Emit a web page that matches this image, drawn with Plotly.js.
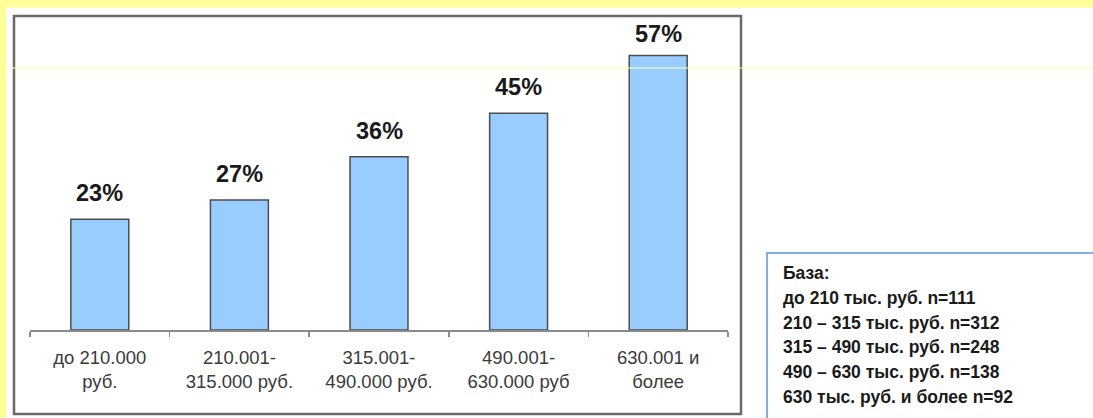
<!DOCTYPE html>
<html>
<head>
<meta charset="utf-8">
<script src="https://cdn.plot.ly/plotly-3.0.1.min.js"></script>
<style>
  html, body { margin: 0; padding: 0; background: #ffffff; }
  #chart { width: 1093px; height: 418px; }
</style>
</head>
<body>
<div id="chart"></div>
<script>
// ---- data ----
const categories = [
  "до 210.000<br>руб.",
  "210.001-<br>315.000 руб.",
  "315.001-<br>490.000 руб.",
  "490.001-<br>630.000 руб",
  "630.001 и<br>более"
];
const values = [23, 27, 36, 45, 57];
const valueLabels = ["23%", "27%", "36%", "45%", "57%"];
const baseTitle = "База:";
const baseLines = [
  "до 210 тыс. руб. n=111",
  "210 – 315 тыс. руб. n=312",
  "315 – 490 тыс. руб. n=248",
  "490 – 630 тыс. руб. n=138",
  "630 тыс. руб. и более n=92"
];

// ---- layout geometry helpers (pixel -> paper) ----
const W = 1093, H = 418;
const mL = 30, mR = 365, mT = 16, mB = 88;
const pw = W - mL - mR, ph = H - mT - mB;
const px = x => (x - mL) / pw;
const py = y => (H - mB - y) / ph;

const FONT = "Liberation Sans, Arial, sans-serif";

const trace = {
  type: "bar",
  x: categories,
  y: values,
  marker: { color: "#99CCFF", line: { color: "#4d4d4d", width: 1.5 } },
  hoverinfo: "skip"
};

const labelAnnotations = categories.map((c, i) => ({
  x: c, y: values[i], xref: "x", yref: "y",
  text: valueLabels[i], showarrow: false,
  yanchor: "bottom", yshift: i === 4 ? 6 : 11,
  font: { family: FONT, size: 23.5, color: "#1a1a1a", weight: "bold" }
}));

const baseRows = [baseTitle].concat(baseLines);
const baseAnnotations = baseRows.map((t, i) => ({
  xref: "paper", yref: "paper",
  x: px(781), y: py(273 + i * 24.8), xanchor: "left", yanchor: "middle", align: "left",
  showarrow: false,
  text: "<b>" + t + "</b>",
  font: { family: FONT, size: 17.5, color: "#1a1a1a" }
}));

const layout = {
  width: W, height: H,
  margin: { l: mL, r: mR, t: mT, b: mB, pad: 0 },
  paper_bgcolor: "#ffffff",
  plot_bgcolor: "rgba(0,0,0,0)",
  showlegend: false,
  bargap: 0.585,
  xaxis: {
    type: "category",
    showline: true, linecolor: "#8a8a8a", linewidth: 1.5,
    ticks: "outside", tickson: "boundaries", ticklen: 5, tickcolor: "#8a8a8a", tickwidth: 1.5,
    ticklabelstandoff: 10,
    showgrid: false, zeroline: false,
    tickfont: { family: FONT, size: 18.5, color: "#3a3a3a" },
    fixedrange: true
  },
  yaxis: {
    range: [0, 65.2],
    visible: false, showgrid: false, zeroline: false, fixedrange: true
  },
  annotations: labelAnnotations.concat(baseAnnotations),
  shapes: [
    // yellow page strips
    { type: "rect", xref: "paper", yref: "paper", x0: px(0), x1: px(W), y0: py(0), y1: py(7.5),
      fillcolor: "#FFFF99", line: { width: 0 }, layer: "below" },
    { type: "rect", xref: "paper", yref: "paper", x0: px(0), x1: px(6), y0: py(0), y1: py(H),
      fillcolor: "#FFFF99", line: { width: 0 }, layer: "below" },
    // chart frame
    { type: "rect", xref: "paper", yref: "paper", x0: px(14), x1: px(741), y0: py(16), y1: py(414),
      line: { color: "#6a6a6a", width: 2.5 }, fillcolor: "rgba(0,0,0,0)", layer: "below" },
    // base box
    { type: "rect", xref: "paper", yref: "paper", x0: px(767), x1: px(1100), y0: py(253), y1: py(419),
      line: { color: "#7fb0de", width: 2 }, fillcolor: "rgba(0,0,0,0)", layer: "below" },
    // faint yellow line
    { type: "line", xref: "paper", yref: "paper", x0: px(6), x1: px(W), y0: py(68), y1: py(68),
      line: { color: "#FFFFA0", width: 1 }, layer: "above" }
  ]
};

Plotly.newPlot("chart", [trace], layout, { displayModeBar: false, staticPlot: true });
</script>
</body>
</html>
